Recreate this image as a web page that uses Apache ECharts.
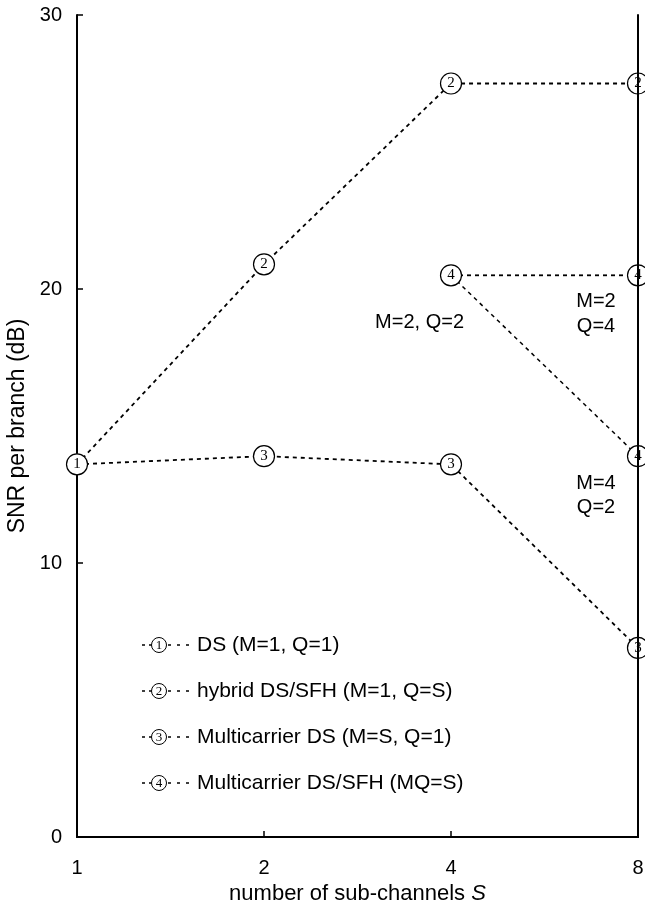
<!DOCTYPE html>
<html>
<head>
<meta charset="utf-8">
<script src="https://cdn.jsdelivr.net/npm/echarts@6/dist/echarts.min.js"></script>
<style>
  html, body { margin: 0; padding: 0; background: #fff; }
  #chart { width: 645px; height: 906px; }
</style>
</head>
<body>
<div id="chart"></div>
<script>
// Number of sub-channels S (log2 spaced, drawn as categories)
const subChannels = ['1', '2', '4', '8'];
const yTicks = [0, 10, 20, 30];

// SNR per branch (dB) for each scheme
const dsValues = [13.6, null, null, null];
const hybridValues = [13.6, 20.9, 27.5, 27.5];
const mcDsValues = [13.6, 13.9, 13.6, 6.9];
const mcSfhQ4Values = [null, null, 20.5, 20.5];   // M=2,Q=2 -> M=2,Q=4
const mcSfhM4Values = [null, null, 20.5, 13.9];   // M=2,Q=2 -> M=4,Q=2

const seriesNames = [
  'DS (M=1, Q=1)',
  'hybrid DS/SFH (M=1, Q=S)',
  'Multicarrier DS (M=S, Q=1)',
  'Multicarrier DS/SFH (MQ=S)'
];
const markerDigits = ['1', '2', '3', '4'];

const SANS = 'Liberation Sans, Arial, Helvetica, sans-serif';
const SERIF = 'Liberation Serif, Times New Roman, serif';

// points that share a marker with another series are drawn without their own symbol
function points(values, hiddenIdx) {
  return values.map((v, i) => hiddenIdx.includes(i)
    ? { value: v, symbol: 'none', label: { show: false } }
    : v);
}

function lineSeries(name, digit, data, z, width) {
  return {
    type: 'line',
    name: name,
    data: data,
    z: z,
    connectNulls: false,
    symbol: 'circle',
    symbolSize: 21,
    lineStyle: { color: '#000', width: width, type: [4, 4] },
    itemStyle: { color: '#fff', borderColor: '#000', borderWidth: 1.2 },
    label: {
      show: true,
      position: 'inside',
      formatter: () => digit,
      fontFamily: SERIF,
      fontSize: 15,
      color: '#000'
    },
    emphasis: { disabled: true },
    animation: false
  };
}

const series = [
  lineSeries(seriesNames[1], markerDigits[1], points(hybridValues, [0]), 2, 1.8),
  lineSeries(seriesNames[2], markerDigits[2], points(mcDsValues, [0]), 2, 1.8),
  lineSeries(seriesNames[3], markerDigits[3], points(mcSfhQ4Values, []), 2, 1.8),
  lineSeries(seriesNames[3], markerDigits[3], points(mcSfhM4Values, [2]), 2, 1.5),
  lineSeries(seriesNames[0], markerDigits[0], points(dsValues, []), 3, 1.8)
];

// legend rows: dashed stub, numbered circle, dashed stub, description
const legendTop = 645, legendStep = 46;
const legendGraphics = [];
seriesNames.forEach((name, k) => {
  const y = legendTop + legendStep * k;
  legendGraphics.push(
    { type: 'line', shape: { x1: 142, y1: y, x2: 152, y2: y },
      style: { stroke: '#000', lineWidth: 1.5, lineDash: [3, 4] } },
    { type: 'circle', shape: { cx: 159, cy: y, r: 7.5 },
      style: { fill: '#fff', stroke: '#000', lineWidth: 1 } },
    { type: 'text', x: 159, y: y + 0.5,
      style: { text: markerDigits[k], font: '13px ' + SERIF, fill: '#000',
               align: 'center', verticalAlign: 'middle' } },
    { type: 'line', shape: { x1: 168, y1: y, x2: 190, y2: y },
      style: { stroke: '#000', lineWidth: 1.5, lineDash: [3, 6] } },
    { type: 'text', x: 197, y: y,
      style: { text: name, font: '21px ' + SANS, fill: '#000',
               align: 'left', verticalAlign: 'middle' } }
  );
});

// parameter annotations next to the multicarrier DS/SFH points
const notes = [
  { text: 'M=2, Q=2', x: 464, y: 322, align: 'right' },
  { text: 'M=2', x: 596, y: 301, align: 'center' },
  { text: 'Q=4', x: 596, y: 326, align: 'center' },
  { text: 'M=4', x: 596, y: 483, align: 'center' },
  { text: 'Q=2', x: 596, y: 507, align: 'center' }
];
const noteGraphics = notes.map(n => ({
  type: 'text', x: n.x, y: n.y,
  style: { text: n.text, font: '20px ' + SANS, fill: '#000',
           align: n.align, verticalAlign: 'middle' }
}));

const axisLine = { show: true, lineStyle: { color: '#000', width: 2 } };

const option = {
  animation: false,
  backgroundColor: '#fff',
  grid: { left: 77, right: 7, top: 15, bottom: 69, containLabel: false, outerBoundsMode: 'none' },
  xAxis: [
    {
      type: 'category',
      data: subChannels,
      boundaryGap: false,
      position: 'bottom',
      axisLine: axisLine,
      axisTick: { show: true, inside: true, length: 6, lineStyle: { color: '#000', width: 1.5 } },
      axisLabel: { margin: 21, fontSize: 20, fontFamily: SANS, color: '#000' },
      splitLine: { show: false },
      name: 'number of sub-channels {i|S}',
      nameLocation: 'middle',
      nameGap: 41,
      nameTextStyle: {
        fontSize: 22, fontFamily: SANS, color: '#000',
        rich: { i: { fontSize: 22, fontFamily: SANS, fontStyle: 'italic', color: '#000' } }
      }
    },
    {
      type: 'category',
      data: subChannels,
      boundaryGap: false,
      position: 'top',
      axisLine: axisLine,
      axisTick: { show: false },
      axisLabel: { show: false },
      splitLine: { show: false }
    }
  ],
  yAxis: [
    {
      type: 'value',
      min: yTicks[0],
      max: yTicks[yTicks.length - 1],
      interval: yTicks[1] - yTicks[0],
      position: 'left',
      axisLine: axisLine,
      axisTick: { show: true, inside: true, length: 6, lineStyle: { color: '#000', width: 1.5 } },
      axisLabel: { margin: 15, fontSize: 20, fontFamily: SANS, color: '#000' },
      splitLine: { show: false },
      name: 'SNR per branch (dB)',
      nameLocation: 'middle',
      nameGap: 47,
      nameTextStyle: { fontSize: 23, fontFamily: SANS, color: '#000' }
    },
    {
      // right frame edge, drawn over the markers sitting on it
      type: 'value',
      min: yTicks[0],
      max: yTicks[yTicks.length - 1],
      position: 'right',
      z: 4,
      axisLine: axisLine,
      axisTick: { show: false },
      axisLabel: { show: false },
      splitLine: { show: false }
    }
  ],
  series: series,
  graphic: legendGraphics.concat(noteGraphics)
};

const chart = echarts.init(document.getElementById('chart'), null, { renderer: 'canvas' });
chart.setOption(option);
</script>
</body>
</html>
